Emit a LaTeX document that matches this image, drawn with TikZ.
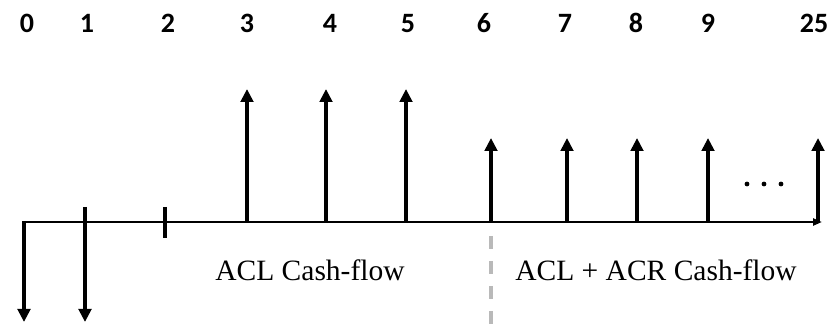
\documentclass[tikz,border=0pt]{standalone}
\usepackage{fontspec}
\setmainfont{Liberation Serif}
\newfontfamily\digitfont{Carlito}
\usetikzlibrary{arrows.meta}
\begin{document}
\begin{tikzpicture}[x=1pt,y=-1pt,
  flow/.style={line width=4pt,-{Triangle[length=13pt,width=12.5pt]}},
  axisline/.style={line width=2.2pt},
  period/.style={font=\digitfont\bfseries\fontsize{28}{28}\selectfont,anchor=base},
  caption/.style={font=\fontsize{29.5}{29.5}\selectfont,anchor=base},
  split/.style={draw=gray!55,line width=3.2pt,dash pattern=on 13pt off 12pt}]
\useasboundingbox (0,0) rectangle (832,336);
% time axis
\coordinate (a0) at (24,222);
\coordinate (aend) at (822,222);
\draw[axisline,-{Triangle[length=9pt,width=7pt]}] (a0) -- (aend);
% period labels
\foreach \x/\t in {27/0,87/1,168/2,247/3,330/4,408/5,484/6,565/7,636/8,708/9,814/25}
  \node[period] (p\t) at (\x,32.5) {\t};
% outflows
\draw[flow] (24,221) -- (24,322);
\draw[flow] (85,207) -- (85,322);
% tick at year 2
\draw[line width=3.4pt] (165,207) -- (165,238);
% large inflows
\foreach \x in {247,326,406}
  \draw[flow] (\x,223) -- (\x,89);
% smaller inflows
\foreach \x in {491,567,637,708,818}
  \draw[flow] (\x,223) -- (\x,138);
% ellipsis
\foreach \x in {747,764,781}
  \fill (\x,184) circle (2.4pt);
% phase separator
\draw[split] (491,236) -- (491,336);
% phase captions
\node[caption] (c1) at (310,281) {ACL Cash-flow};
\node[caption] (c2) at (656,281) {ACL + ACR Cash-flow};
\end{tikzpicture}
\end{document}
